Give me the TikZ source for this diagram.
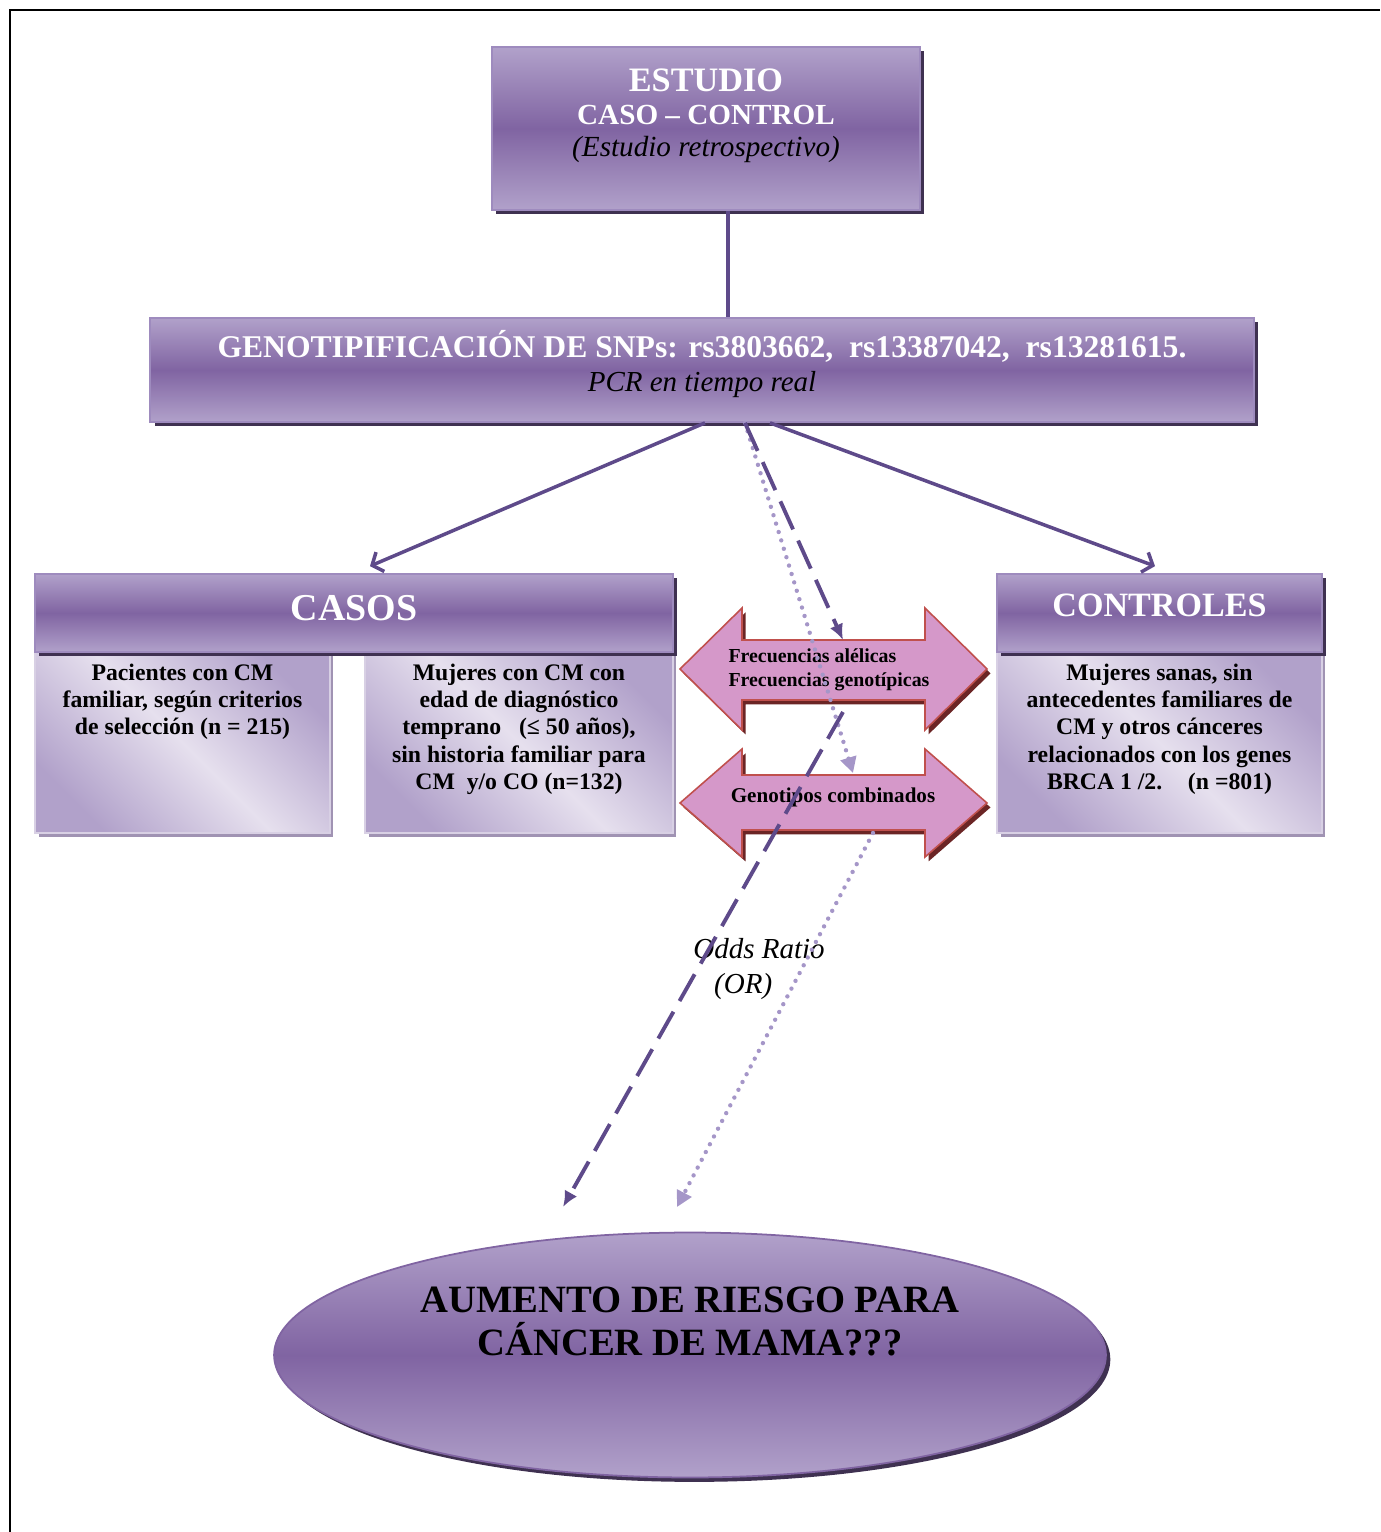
\documentclass[tikz,border=0pt]{standalone}
\usepackage{fontspec}
\setmainfont{Liberation Serif}
\usetikzlibrary{positioning,shapes.geometric,shadows,arrows.meta}

\definecolor{violeta}{HTML}{8064A2}
\definecolor{lila}{HTML}{B1A1CA}
\definecolor{lilaclaro}{HTML}{E6E0EE}
\definecolor{sombra}{HTML}{3F3151}
\definecolor{sombraclara}{HTML}{A093B3}
\definecolor{borde}{HTML}{9E8BBE}
\definecolor{linea}{HTML}{5E4A8A}
\definecolor{puntos}{HTML}{A596C8}
\definecolor{rosa}{HTML}{D598C9}
\definecolor{rojo}{HTML}{C0504D}
\definecolor{granate}{HTML}{6B2525}

\tikzset{
	caja/.style={rectangle, draw=borde, line width=1pt, top color=lila, bottom color=lila, middle color=violeta,
		drop shadow={shadow xshift=2.5pt, shadow yshift=-2.5pt, fill=sombra, opacity=1}},
	subcaja/.style={rectangle, draw=white!50!lila, line width=0.8pt, top color=lila, bottom color=lila, middle color=lilaclaro,
		shading angle=-45, drop shadow={shadow xshift=2pt, shadow yshift=-2pt, fill=sombraclara, opacity=1}},
	titulo/.style={text=white},
	cuerpo/.style={align=center, inner sep=0pt, font=\bfseries\fontsize{13.5}{15.6}\selectfont},
	flechadoble/.style={fill=rosa, draw=rojo, line width=0.9pt,
		drop shadow={shadow xshift=2pt, shadow yshift=-2.5pt, fill=granate, opacity=1}},
	enlace/.style={draw=linea, line width=2pt},
	rayado/.style={draw=linea, line width=2.2pt, dash pattern=on 17.5pt off 7pt, -{Latex[length=9pt,width=8pt]}},
	punteado/.style={draw=puntos, line width=2.5pt, line cap=round, dash pattern=on 0pt off 5pt, -{Triangle[length=9pt,width=9pt]}},
}

\begin{document}
\begin{tikzpicture}[x=0.02cm,y=-0.02cm]
	\useasboundingbox (0,0) rectangle (1380,1532);
	\draw[line width=1.7pt] (1380,10) -- (10,10) -- (10,1532);

	% estudio caso-control
	\node[caja, minimum width=8.56cm, minimum height=3.26cm] (estudio) at (706,128.5) {};
	\node[titulo, align=center, inner sep=0pt, font=\bfseries\fontsize{16.6}{18.7}\selectfont, below=0.44cm of estudio.north] (estudiotxt)
		{{\fontsize{19.5}{18.7}\selectfont ESTUDIO}\\CASO – CONTROL\\{\mdseries\itshape\color{black}(Estudio retrospectivo)}};

	% genotipificacion
	\node[caja, minimum width=22.08cm, minimum height=2.08cm] (genot) at (702,370) {};
	\node[titulo, align=center, inner sep=0pt, font=\bfseries\fontsize{18}{19.6}\selectfont, below=0.25cm of genot.north] (genottxt)
		{GENOTIPIFICACIÓN DE SNPs: rs3803662,~ rs13387042,~ rs13281615.\\{\mdseries\itshape\fontsize{16.5}{19.6}\selectfont\color{black}PCR en tiempo real}};

	% casos y controles
	\node[subcaja, minimum width=5.9cm, minimum height=3.62cm] (casosA) at (182.5,742.5) {};
	\node[subcaja, minimum width=6.16cm, minimum height=3.62cm] (casosB) at (519,742.5) {};
	\node[subcaja, minimum width=6.5cm, minimum height=3.62cm] (controlA) at (1159.5,742.5) {};
	\node[caja, titulo, minimum width=12.76cm, minimum height=1.56cm, text depth=0.2cm, font=\bfseries\fontsize{21.6}{24}\selectfont] (casos) at (354,613) {CASOS};
	\node[caja, titulo, minimum width=6.5cm, minimum height=1.56cm, text depth=0.3cm, font=\bfseries\fontsize{19.4}{22}\selectfont] (controles) at (1159.5,613) {CONTROLES};
	\node[cuerpo, below=0.24cm of casosA.north] (casosAtxt) {Pacientes con CM\\familiar, según criterios\\de selección (n = 215)};
	\node[cuerpo, below=0.24cm of casosB.north] (casosBtxt) {Mujeres con CM con\\edad de diagnóstico\\temprano \ \ (≤ 50 años),\\sin historia familiar para\\CM \ y/o CO (n=132)};
	\node[cuerpo, below=0.24cm of controlA.north] (controlAtxt) {Mujeres sanas, sin\\antecedentes familiares de\\CM y otros cánceres\\relacionados con los genes\\BRCA 1 /2. \ \ \ (n =801)};

	% flechas dobles
	\filldraw[flechadoble] (680,669) -- (742,608) -- (742,640) -- (925,640) -- (925,608) -- (987,669)
		-- (925,730) -- (925,700) -- (742,700) -- (742,730) -- cycle;
	\filldraw[flechadoble] (680,803) -- (742,749) -- (742,775) -- (925,775) -- (925,749) -- (987,803)
		-- (925,857) -- (925,830) -- (742,830) -- (742,857) -- cycle;
	\node[align=left, inner sep=0pt, font=\bfseries\fontsize{11.3}{13.6}\selectfont] (frectxt) at (829,670) {Frecuencias alélicas\\Frecuencias genotípicas};
	\node[inner sep=0pt, font=\bfseries\fontsize{12}{14}\selectfont] (combtxt) at (833,797) {Genotipos combinados};

	% riesgo
	\node[caja, ellipse, draw=violeta, minimum width=16.64cm, minimum height=4.9cm] (riesgo) at (690,1355) {};
	\node[align=center, inner sep=0pt, font=\bfseries\fontsize{22}{24.4}\selectfont, below=1.1cm of riesgo.north] (riesgotxt)
		{AUMENTO DE RIESGO PARA\\CÁNCER DE MAMA???};
	\node[align=center, inner sep=0pt, font=\itshape\fontsize{16.5}{19.8}\selectfont] (odds) at (759,969) {Odds Ratio\\(OR)\kern18pt};

	\coordinate (frecA) at (843,640);
	\coordinate (frecB) at (843,712);
	\coordinate (combA) at (853,773);
	\coordinate (combB) at (873,833);
	\coordinate (riesgoA) at (563,1207);
	\coordinate (riesgoB) at (677,1207);

	% conectores
	\draw[enlace] ([xshift=0.44cm]estudio.south) -- ([xshift=0.44cm]estudio.south |- genot.north);
	\draw[enlace, -{Straight Barb[length=5pt,width=12pt]}] ([xshift=0.06cm]genot.south) -- ([shift={(16,-7)}]casos.north);
	\draw[enlace, -{Straight Barb[length=5pt,width=12pt]}] ([xshift=1.36cm]genot.south) -- ([shift={(-4.5,-7)}]controles.north);
	\draw[punteado] ([xshift=0.86cm]genot.south) -- (combA);
	\draw[punteado] (combB) -- (riesgoB);
	\draw[rayado] ([xshift=0.86cm]genot.south) -- (frecA);
	\draw[rayado] (frecB) -- (riesgoA);
\end{tikzpicture}
\end{document}
